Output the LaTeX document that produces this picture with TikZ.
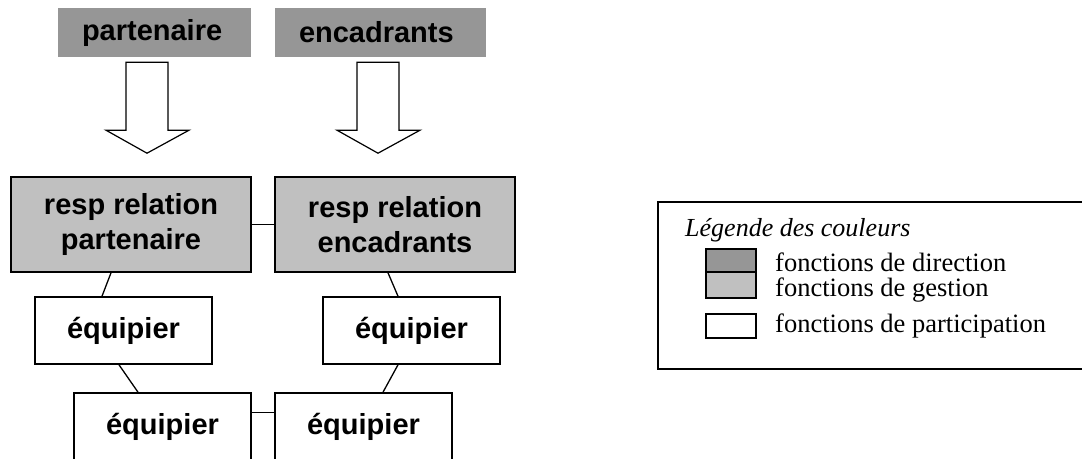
\documentclass[tikz,border=0pt]{standalone}
\usepackage{fontspec}
\setmainfont{Liberation Serif}
\newfontfamily\boxfont{Liberation Sans}
\usetikzlibrary{calc}
\definecolor{dirgray}{RGB}{150,150,150}
\definecolor{gesgray}{RGB}{192,192,192}
\tikzset{
  boxtext/.style={font=\boxfont\bfseries\fontsize{29}{35}\selectfont, align=center, inner sep=0pt},
  headbox/.style={boxtext, fill=dirgray, align=left, inner xsep=24pt},
  gesbox/.style={boxtext, draw, fill=gesgray, line width=1.6pt},
  partbox/.style={boxtext, draw, fill=white, line width=1.6pt},
  link/.style={line width=1.3pt},
  blockarrow/.style={draw, fill=white, line width=1.2pt, line join=miter},
  legtext/.style={font=\fontsize{26.5}{30}\selectfont, anchor=base west, inner sep=0pt},
  swatch/.style={draw, line width=1.4pt, inner sep=0pt, minimum width=50pt},
}
\begin{document}
\begin{tikzpicture}[x=1pt, y=-1pt]
\useasboundingbox (0,0) rectangle (1082,459);
\clip (0,0) rectangle (1082,459);

% incoming sources
\node[headbox, text width=145pt, minimum height=49pt] (topP) at (154.5,32.5) {partenaire};
\node[headbox, text width=163pt, minimum height=49pt] (topE) at (380.5,32.5) {encadrants};

% management level
\node[gesbox, minimum width=240pt, minimum height=95pt] (respP) at (131,224.5) {resp relation\\partenaire};
\node[gesbox, minimum width=240pt, minimum height=95pt] (respE) at (395,224.5) {resp relation\\encadrants};

% team members (the lower row runs past the bottom edge)
\node[partbox, minimum width=177pt, minimum height=67pt] (eq1) at (123.5,330.5) {équipier};
\node[partbox, minimum width=177pt, minimum height=67pt] (eq2) at (411.5,330.5) {équipier};
\node[partbox, minimum width=177pt, minimum height=67pt] (eq3) at (162.5,426.5) {équipier};
\node[partbox, minimum width=177pt, minimum height=67pt] (eq4) at (363.5,426.5) {équipier};
\fill[white] (0,459.2) rectangle (1082,470);

% hollow block arrows from the sources down to the managers
\coordinate (aP) at ([yshift=-5pt]topP.south -| 147,0);
\coordinate (aE) at ([yshift=-5pt]topE.south -| 378,0);
\foreach \c in {aP,aE}{
  \draw[blockarrow] (\c) ++(-21,0) -- ++(42,0) -- ++(0,68) -- ++(21,0)
     -- ++(-42,23) -- ++(-41,-23) -- ++(20,0) -- cycle;
}

% links between functions
\draw[link] (respP.east) -- (respE.west);
\draw[link] ([xshift=-20pt]respP.south) -- ([xshift=-21.5pt]eq1.north);
\draw[link] ([xshift=-7pt]respE.south) -- ([xshift=-13.5pt]eq2.north);
\draw[link] ([xshift=-4.5pt]eq1.south) -- ([xshift=-24.5pt]eq3.north);
\draw[link] ([xshift=-13.5pt]eq2.south) -- ([xshift=19.5pt]eq4.north);
\draw[link] ([yshift=-20pt]eq3.north east) -- ([yshift=-20pt]eq4.north west);

% colour legend
\node[draw, line width=1.8pt, minimum width=432pt, minimum height=167pt, inner sep=0pt] (legend) at (874,285.5) {};
\node[legtext, font=\itshape\fontsize{26}{30}\selectfont] (legtitle) at (685,236) {Légende des couleurs};
\node[swatch, fill=dirgray, minimum height=23pt] (swDir) at (731,260.5) {};
\node[swatch, fill=gesgray, minimum height=26pt] (swGes) at (731,285) {};
\node[swatch, fill=white, minimum height=24pt] (swPart) at (731,326) {};
\node[legtext] (lDir) at (775,271) {fonctions de direction};
\node[legtext] (lGes) at (775,296) {fonctions de gestion};
\node[legtext] (lPart) at (775,332) {fonctions de participation};
\end{tikzpicture}
\end{document}
